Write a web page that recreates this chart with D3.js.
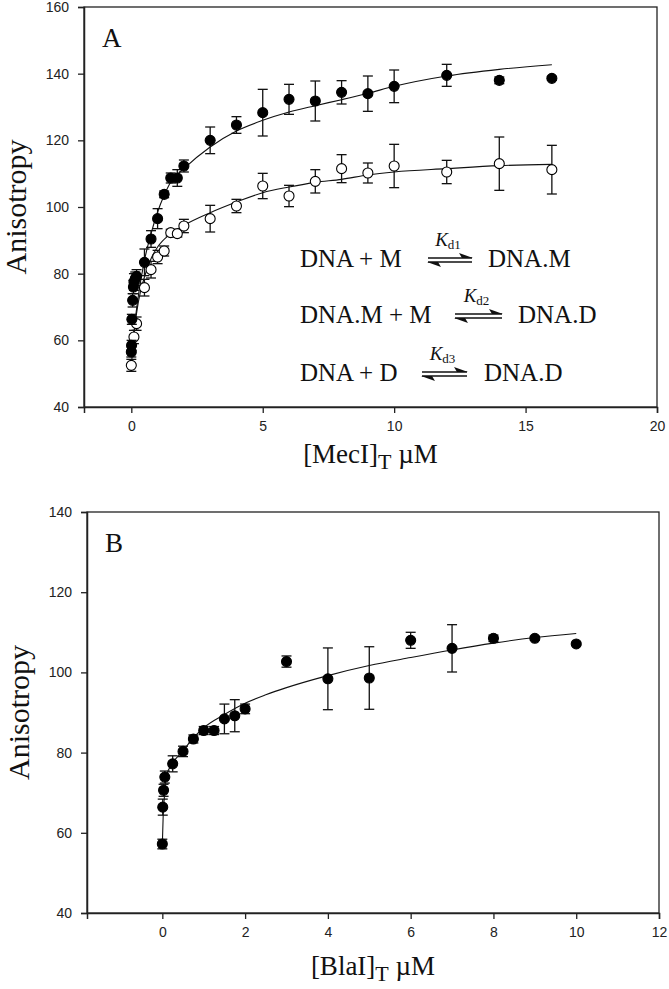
<!DOCTYPE html>
<html><head><meta charset="utf-8">
<script src="https://cdn.jsdelivr.net/npm/d3@7"></script>
<style>
body{margin:0;background:#fff;}
svg{display:block;}
.tick text{font-family:"Liberation Sans",Arial,sans-serif;font-size:14px;fill:#222;}
</style></head><body>
<svg id="c" width="669" height="989"></svg>
<script>
// ---------- Panel A data ----------
const aFilledX   = [0, 0.01, 0.02, 0.05, 0.08, 0.1, 0.15, 0.2, 0.5, 0.75, 1, 1.25, 1.5, 1.75, 2, 3, 4, 5, 6, 7, 8, 9, 10, 12, 14, 16];
const aFilledY   = [56.5, 58.5, 66.3, 72, 76, 77.5, 78.5, 79.2, 83.4, 90.4, 96.5, 103.8, 108.7, 108.7, 112.3, 120, 124.6, 128.3, 132.3, 131.8, 134.4, 134, 136.2, 139.5, 138, 138.6];
const aFilledErr = [1.5, 1.5, 1.5, 2, 2, 2.5, 2, 2, 4, 2.5, 3, 1, 1.5, 2.5, 1.8, 4, 2.5, 7, 4.5, 6, 3.5, 5.3, 4.9, 3.3, 1, 0.6];
const aOpenX   = [0, 0.1, 0.2, 0.5, 0.75, 1, 1.25, 1.5, 1.75, 2, 3, 4, 5, 6, 7, 8, 9, 10, 12, 14, 16];
const aOpenY   = [52.5, 61, 65, 75.8, 81.2, 85, 86.8, 92.3, 92, 94.3, 96.5, 100.3, 106.3, 103.3, 107.7, 111.5, 110.2, 112.3, 110.5, 113, 111.2];
const aOpenErr = [1.8, 2, 2, 2.5, 2.5, 2, 1.5, 1, 1, 2, 4, 2, 3.8, 3.2, 3.5, 4.2, 3, 6.5, 3.5, 8, 7.3];
const aFitFilledX = [0, 0.1, 0.15, 0.28, 0.5, 0.75, 1, 1.25, 1.5, 2, 3, 4, 5, 6, 7, 8, 9, 10, 12, 14, 16];
const aFitFilledY = [55, 62, 66, 74, 84, 92, 98.5, 103.5, 107.5, 111.5, 118, 122.8, 126, 128.5, 130.4, 132.2, 134.1, 136.2, 139.3, 141.3, 142.7];
const aFitOpenX = [0, 0.1, 0.28, 0.5, 0.75, 1, 1.5, 2, 3, 4, 5, 6, 7, 8, 9, 10, 12, 14, 16];
const aFitOpenY = [52, 62, 72, 79, 84.5, 88, 92, 94.5, 98.3, 101.5, 104.3, 106, 107.4, 108.3, 109.6, 110.5, 111.5, 112.4, 112.8];
const aXTicks = [0, 5, 10, 15, 20];
const aYTicks = [40, 60, 80, 100, 120, 140, 160];

// ---------- Panel B data ----------
const bX   = [0, 0.01, 0.03, 0.06, 0.25, 0.5, 0.75, 1, 1.25, 1.5, 1.75, 2, 3, 4, 5, 6, 7, 8, 9, 10];
const bY   = [57.2, 66.4, 70.6, 73.9, 77.2, 80.3, 83.4, 85.5, 85.5, 88.4, 89.2, 90.9, 102.7, 98.4, 98.6, 108, 106, 108.5, 108.5, 107.1];
const bErr = [1.2, 2, 1.5, 1.5, 2, 1.3, 1, 1, 1, 3.7, 4, 1.2, 1.4, 7.7, 7.8, 2, 5.9, 0.8, 0.5, 0.3];
const bFitX = [0, 0.02, 0.05, 0.09, 0.25, 0.49, 0.73, 1, 1.5, 2, 2.5, 3, 4, 5, 6, 7, 8, 9, 10];
const bFitY = [57, 64, 69, 74, 77.4, 80.3, 83.4, 86.2, 89.5, 92.3, 94.4, 96.2, 99.2, 101.7, 103.7, 105.6, 107.3, 108.7, 109.7];
const bXTicks = [0, 2, 4, 6, 8, 10, 12];
const bYTicks = [40, 60, 80, 100, 120, 140];

const svg = d3.select("#c");
const serif = '"Liberation Serif","Times New Roman",serif';

function panel(cfg){
  const g = svg.append("g");
  const x = d3.scaleLinear().domain(cfg.xDomain).range([cfg.left, cfg.right]);
  const y = d3.scaleLinear().domain(cfg.yDomain).range([cfg.bottom, cfg.top]);
  g.append("rect").attr("x", cfg.left).attr("y", cfg.top)
    .attr("width", cfg.right - cfg.left).attr("height", cfg.bottom - cfg.top)
    .attr("fill", "none").attr("stroke", "#222").attr("stroke-width", 1.3);
  const xa = g.append("g").attr("transform", `translate(0,${cfg.bottom})`)
    .call(d3.axisBottom(x).tickValues(cfg.xTicks).tickSize(6).tickPadding(8).tickFormat(d3.format("d")));
  const ya = g.append("g").attr("transform", `translate(${cfg.left},0)`)
    .call(d3.axisLeft(y).tickValues(cfg.yTicks).tickSize(6).tickPadding(9).tickFormat(d3.format("d")));
  [xa, ya].forEach(a => {
    a.select(".domain").attr("stroke", "#222").attr("stroke-width", 1.5);
    a.selectAll(".tick line").attr("stroke", "#222").attr("stroke-width", 1.3);
  });
  const line = d3.line().x(d => x(d[0])).y(d => y(d[1])).curve(d3.curveMonotoneX);
  cfg.fits.forEach(f => {
    g.append("path").datum(d3.zip(f.x, f.y)).attr("d", line)
      .attr("fill", "none").attr("stroke", "#111").attr("stroke-width", 1.1);
  });
  cfg.series.forEach(s => {
    const data = s.x.map((v, i) => ({x: v, y: s.y[i], e: s.err[i]}));
    const eb = g.append("g").attr("stroke", "#111").attr("stroke-width", 1.3);
    data.forEach(d => {
      const cx = x(d.x), y1 = y(d.y + d.e), y2 = y(d.y - d.e);
      eb.append("line").attr("x1", cx).attr("x2", cx).attr("y1", y1).attr("y2", y2);
      eb.append("line").attr("x1", cx - 5).attr("x2", cx + 5).attr("y1", y1).attr("y2", y1);
      eb.append("line").attr("x1", cx - 5).attr("x2", cx + 5).attr("y1", y2).attr("y2", y2);
    });
    g.append("g").selectAll("circle").data(data).join("circle")
      .attr("cx", d => x(d.x)).attr("cy", d => y(d.y)).attr("r", 5)
      .attr("fill", s.filled ? "#000" : "#fff").attr("stroke", "#000").attr("stroke-width", 1.1);
  });
  g.append("text").attr("x", cfg.left + 18).attr("y", cfg.top + 40)
    .attr("font-family", serif).attr("font-size", 27).attr("fill", "#111").text(cfg.letter);
  g.append("text").attr("transform", `translate(${cfg.left - 58},${(cfg.top + cfg.bottom) / 2}) rotate(-90)`)
    .attr("text-anchor", "middle").attr("font-family", serif).attr("font-size", 30).attr("fill", "#111")
    .text("Anisotropy");
  const xl = g.append("text").attr("x", (cfg.left + cfg.right) / 2).attr("y", cfg.bottom + cfg.xLabelOff)
    .attr("text-anchor", "middle").attr("font-family", serif).attr("font-size", 27).attr("fill", "#111");
  xl.append("tspan").text(cfg.xName);
  xl.append("tspan").attr("font-size", 22).attr("dy", 6).text("T");
  xl.append("tspan").attr("dy", -6).text(" \u00B5M");
  return {g, x, y};
}

const A = panel({left: 84, right: 657, top: 7, bottom: 407, xDomain: [-1.8, 20], yDomain: [40, 160],
  xTicks: aXTicks, yTicks: aYTicks, letter: "A", xName: "[MecI]", xLabelOff: 56,
  fits: [{x: aFitFilledX, y: aFitFilledY}, {x: aFitOpenX, y: aFitOpenY}],
  series: [{x: aOpenX, y: aOpenY, err: aOpenErr, filled: false}, {x: aFilledX, y: aFilledY, err: aFilledErr, filled: true}]});

const B = panel({left: 87, right: 659, top: 512, bottom: 913, xDomain: [-1.82, 12], yDomain: [40, 140],
  xTicks: bXTicks, yTicks: bYTicks, letter: "B", xName: "[BlaI]", xLabelOff: 62,
  fits: [{x: bFitX, y: bFitY}],
  series: [{x: bX, y: bY, err: bErr, filled: true}]});

// ---------- reaction scheme in panel A ----------
const eqns = [
  {left: "DNA + M", k: "d1", right: "DNA.M", base: 267, ax0: 428, ax1: 472, rx: 488},
  {left: "DNA.M + M", k: "d2", right: "DNA.D", base: 323, ax0: 455, ax1: 502, rx: 518},
  {left: "DNA + D", k: "d3", right: "DNA.D", base: 381, ax0: 422, ax1: 467, rx: 484}
];
const eg = A.g.append("g").attr("font-family", serif).attr("fill", "#111");
eqns.forEach(e => {
  eg.append("text").attr("x", 300).attr("y", e.base).attr("font-size", 25).text(e.left);
  eg.append("text").attr("x", e.rx).attr("y", e.base).attr("font-size", 25).text(e.right);
  const kt = eg.append("text").attr("x", (e.ax0 + e.ax1) / 2 - 2).attr("y", e.base - 21)
    .attr("text-anchor", "middle").attr("font-size", 19);
  kt.append("tspan").attr("font-style", "italic").text("K");
  kt.append("tspan").attr("font-size", 13).attr("dy", 3).text(e.k);
  const ay = e.base - 7;
  eg.append("line").attr("x1", e.ax0).attr("x2", e.ax1).attr("y1", ay - 2).attr("y2", ay - 2)
    .attr("stroke", "#111").attr("stroke-width", 1.4);
  eg.append("line").attr("x1", e.ax0).attr("x2", e.ax1).attr("y1", ay + 2).attr("y2", ay + 2)
    .attr("stroke", "#111").attr("stroke-width", 1.4);
  eg.append("path").attr("d", `M${e.ax1 + 1},${ay - 2} L${e.ax1 - 13},${ay - 7} L${e.ax1 - 10},${ay - 2} Z`).attr("fill", "#111");
  eg.append("path").attr("d", `M${e.ax0 - 1},${ay + 2} L${e.ax0 + 13},${ay + 7} L${e.ax0 + 10},${ay + 2} Z`).attr("fill", "#111");
});
</script></body></html>
